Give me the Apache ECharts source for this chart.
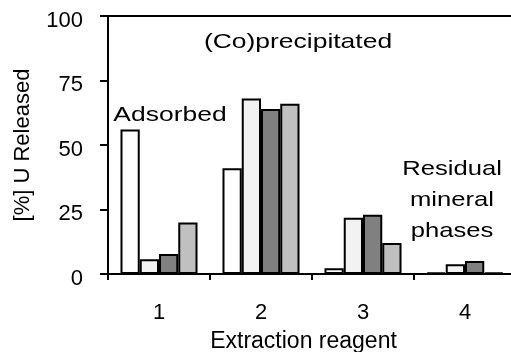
<!DOCTYPE html>
<html>
<head>
<meta charset="utf-8">
<script src="https://cdn.jsdelivr.net/npm/echarts@6/dist/echarts.min.js"></script>
<style>
  html, body { margin: 0; padding: 0; background: #fff; }
  #chart { width: 511px; height: 352px; }
</style>
</head>
<body>
<div id="chart"></div>
<script>
// Extraction steps on the x axis
var categories = ['1', '2', '3', '4'];

// Percent of U released per extraction step, one array per sample
var sampleA = [56, 41, 2.2, 0.5];
var sampleB = [5.7, 68, 21.8, 3.8];
var sampleC = [7.8, 64, 23, 5];
var sampleD = [20, 66, 12, 0.5];

var yTicks = [0, 25, 50, 75, 100];

var fills = ['#ffffff', '#f2f2f2', '#808080', '#c0c0c0'];
var seriesData = [sampleA, sampleB, sampleC, sampleD];
var font = '"Liberation Sans", Arial, sans-serif';

var chart = echarts.init(document.getElementById('chart'), null, { renderer: 'canvas' });

var series = seriesData.map(function (vals, i) {
  return {
    type: 'bar',
    name: 'sample' + (i + 1),
    data: vals,
    barGap: '0%',
    barCategoryGap: '24.5%',
    itemStyle: { color: fills[i], borderColor: '#000', borderWidth: 2 },
    animation: false
  };
});

function annotation(text, x, y, sx) {
  return {
    type: 'text',
    x: x, y: y,
    scaleX: sx,
    silent: true,
    style: {
      text: text, x: 0, y: 0,
      font: '21px ' + font,
      fill: '#000',
      align: 'center', verticalAlign: 'middle',
      lineHeight: 31
    }
  };
}

chart.setOption({
  animation: false,
  grid: {
    left: 108, top: 16, width: 408, height: 258,
    outerBoundsMode: 'none',
    containLabel: false,
    show: true, borderColor: '#000', borderWidth: 2, backgroundColor: 'transparent'
  },
  xAxis: {
    type: 'category',
    data: categories,
    name: 'Extraction reagent',
    nameLocation: 'middle',
    nameGap: 56,
    nameTextStyle: { fontFamily: font, fontSize: 23, color: '#000', padding: [0, 17, 0, 0] },
    axisLine: { lineStyle: { color: '#000', width: 2 } },
    axisTick: { show: true, length: 6, lineStyle: { color: '#000', width: 2 } },
    axisLabel: { fontFamily: font, fontSize: 22, color: '#000', margin: 28 },
    splitLine: { show: false }
  },
  yAxis: {
    type: 'value',
    min: yTicks[0], max: yTicks[yTicks.length - 1], interval: 25,
    name: '[%] U Released',
    nameLocation: 'middle',
    nameGap: 74,
    nameTextStyle: { fontFamily: font, fontSize: 22, color: '#000' },
    axisLine: { show: true, lineStyle: { color: '#000', width: 2 } },
    axisTick: { show: true, length: 8, lineStyle: { color: '#000', width: 2 } },
    axisLabel: {
      fontFamily: font, fontSize: 22, color: '#000', margin: 25,
      verticalAlign: 'top', lineHeight: 9
    },
    splitLine: { show: false }
  },
  series: series,
  graphic: [
    annotation('Adsorbed', 170, 115, 1.26),
    annotation('(Co)precipitated', 298, 42, 1.26),
    annotation('Residual\nmineral\nphases', 452, 200, 1.22)
  ]
});
</script>
</body>
</html>
